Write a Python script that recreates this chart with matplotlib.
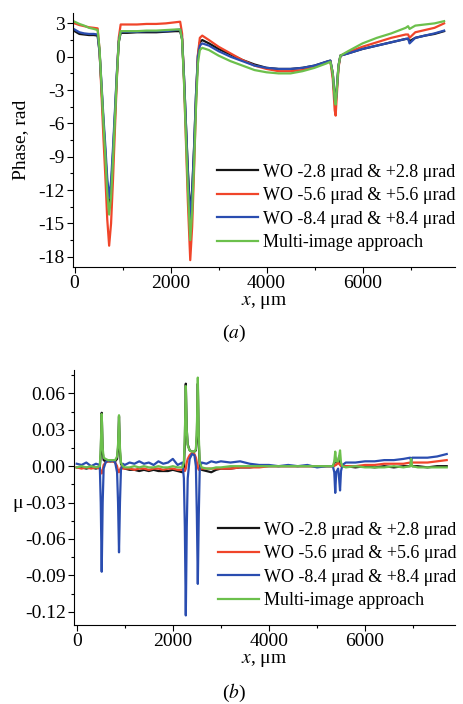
import matplotlib
matplotlib.use("Agg")
from matplotlib import pyplot as plt
from matplotlib.ticker import MultipleLocator, FormatStrFormatter

# ---- panel (a): phase ----
phase_x = [0, 100, 200, 300, 400, 480,
           520, 560, 600, 640, 680, 720, 760, 800, 840, 880, 920, 960,
           1100, 1300, 1500, 1700, 1900, 2100, 2200,
           2240, 2280, 2320, 2360, 2410, 2450, 2490, 2530, 2570, 2610, 2660,
           2800, 3000, 3250, 3500, 3750, 4000, 4250, 4500, 4750, 5000, 5250, 5330,
           5380, 5420, 5440, 5460, 5500, 5540,
           5700, 6000, 6300, 6600, 6900, 6950, 6980, 7100, 7300, 7500, 7700]

phase_wo28 = [2.3, 2.05, 2.0, 1.95, 1.95, 1.9,
              0.4, -2.7, -5.8, -8.6, -11.7, -13.5, -12.0, -8.8, -5.3, -1.7, 1.3, 2.15,
              2.15, 2.2, 2.2, 2.2, 2.25, 2.3, 2.3,
              1.6, -1.8, -6.0, -10.1, -14.3, -12.0, -8.1, -3.4, 0.1, 1.3, 1.5,
              1.2, 0.7, 0.2, -0.3, -0.7, -1.0, -1.1, -1.1, -1.0, -0.8, -0.45, -0.35,
              -1.5, -3.6, -4.0, -3.0, -0.8, 0.1,
              0.3, 0.7, 1.0, 1.3, 1.6, 1.6, 1.4, 1.7, 1.9, 2.05, 2.3]

phase_wo56 = [3.0, 2.85, 2.75, 2.65, 2.6, 2.55,
              0.6, -3.3, -7.2, -10.7, -14.6, -17.0, -15.0, -11.1, -6.6, -2.1, 1.7, 2.9,
              2.9, 2.9, 2.95, 2.95, 3.0, 3.1, 3.15,
              2.1, -2.2, -7.6, -13.0, -18.3, -15.3, -10.2, -4.3, 0.2, 1.7, 1.9,
              1.5, 0.9, 0.3, -0.3, -0.8, -1.1, -1.3, -1.3, -1.2, -0.9, -0.5, -0.4,
              -2.0, -4.8, -5.3, -3.8, -1.0, 0.1,
              0.4, 0.9, 1.3, 1.7, 2.0, 2.0, 1.7, 2.2, 2.4, 2.6, 3.0]

phase_wo84 = [2.45, 2.2, 2.1, 2.05, 2.05, 2.0,
              0.5, -2.4, -5.4, -8.0, -10.9, -12.7, -11.2, -8.2, -4.9, -1.5, 1.4, 2.25,
              2.25, 2.25, 2.3, 2.3, 2.3, 2.4, 2.45,
              1.6, -1.8, -6.1, -10.4, -14.7, -12.3, -8.3, -3.5, 0.0, 1.0, 1.2,
              1.0, 0.5, 0.0, -0.4, -0.8, -1.0, -1.1, -1.1, -1.0, -0.8, -0.45, -0.35,
              -1.5, -3.8, -4.2, -3.2, -0.8, 0.1,
              0.3, 0.7, 1.0, 1.3, 1.6, 1.65, 1.2, 1.7, 1.9, 2.1, 2.35]

phase_multi = [3.15, 2.95, 2.8, 2.6, 2.5, 2.4,
               0.7, -2.6, -5.9, -8.9, -12.2, -14.2, -12.6, -9.3, -5.7, -1.9, 1.3, 2.3,
               2.3, 2.3, 2.35, 2.35, 2.4, 2.45, 2.45,
               1.5, -2.3, -7.1, -11.8, -16.5, -13.9, -9.6, -4.5, -0.6, 0.6, 0.8,
               0.6, 0.1, -0.4, -0.8, -1.2, -1.4, -1.5, -1.5, -1.3, -1.0, -0.6, -0.45,
               -1.5, -3.8, -4.3, -3.2, -0.8, 0.1,
               0.5, 1.2, 1.7, 2.1, 2.6, 2.75, 2.5, 2.8, 2.9, 3.0, 3.2]

# ---- panel (b): mu ----
mu_x = [0, 100, 200, 300, 400, 480,
        500, 520, 540, 560, 600, 650, 700, 750, 800, 840, 860, 880, 900, 920, 960,
        1000, 1100, 1200, 1300, 1400, 1500, 1600, 1700, 1800, 1900, 2000, 2100, 2200,
        2230, 2250, 2270, 2290, 2310, 2350, 2400, 2450, 2480, 2500, 2520, 2540, 2560,
        2600, 2700, 2800, 2900, 3000, 3200, 3400, 3600, 3800, 4000, 4200, 4400, 4600, 4800, 5000, 5200, 5330,
        5360, 5380, 5400, 5440, 5460, 5480, 5500, 5530,
        5600, 5800, 6000, 6200, 6400, 6600, 6800, 6940, 6960, 6980, 7100, 7300, 7500, 7700]

mu_wo28 = [-0.001, -0.001, -0.002, -0.001, -0.002, -0.001,
           0.010, 0.044, 0.012, 0.005, 0.004, 0.004, 0.004, 0.004, 0.004, 0.006, 0.015, 0.041, 0.012, 0.002, -0.001,
           -0.002, -0.003, -0.003, -0.004, -0.003, -0.004, -0.003, -0.004, -0.004, -0.004, -0.003, -0.004, -0.005,
           -0.002, 0.020, 0.068, 0.030, 0.018, 0.013, 0.012, 0.012, 0.013, 0.025, 0.068, 0.020, 0.000,
           -0.003, -0.004, -0.005, -0.003, -0.002, -0.002, -0.001, -0.001, 0.000, 0.000, 0.000, 0.000, 0.000, 0.000, 0.000, 0.000, 0.000,
           0.002, 0.006, 0.004, 0.003, 0.008, 0.004, 0.001, 0.000,
           0.000, -0.001, 0.000, -0.001, 0.000, -0.001, 0.000, 0.000, 0.001, 0.000, 0.000, -0.001, 0.000, 0.000]

mu_wo56 = [-0.001, -0.002, -0.001, -0.002, -0.001, -0.002,
           -0.004, -0.006, -0.003, 0.001, 0.003, 0.004, 0.004, 0.004, 0.003, 0.000, -0.004, -0.005, -0.003, -0.001, -0.002,
           -0.002, -0.002, -0.003, -0.002, -0.002, -0.003, -0.002, -0.002, -0.003, -0.002, -0.002, -0.003, -0.003,
           -0.002, -0.004, -0.002, 0.003, 0.006, 0.009, 0.011, 0.010, 0.007, 0.003, -0.001, -0.003, -0.002,
           -0.002, -0.002, -0.002, -0.002, -0.002, -0.002, -0.001, -0.001, -0.001, 0.000, 0.000, 0.000, 0.000, 0.000, 0.000, 0.000, 0.000,
           0.000, 0.001, 0.001, 0.003, 0.002, 0.001, 0.000, 0.000,
           0.000, 0.000, 0.001, 0.001, 0.002, 0.002, 0.002, 0.003, 0.001, 0.003, 0.003, 0.003, 0.004, 0.005]

mu_wo84 = [0.002, 0.001, 0.003, 0.000, 0.002, 0.001,
           -0.030, -0.087, -0.030, -0.002, 0.003, 0.005, 0.004, 0.005, 0.003, -0.005, -0.030, -0.071, -0.030, -0.003, 0.002,
           0.001, 0.003, 0.002, 0.004, 0.002, 0.003, 0.001, 0.004, 0.002, 0.003, 0.006, 0.001, 0.003,
           -0.010, -0.050, -0.123, -0.050, -0.010, 0.006, 0.010, 0.009, 0.000, -0.040, -0.097, -0.040, -0.002,
           0.003, 0.002, 0.004, 0.003, 0.004, 0.003, 0.004, 0.002, 0.001, 0.001, 0.000, 0.001, 0.000, 0.001, -0.001, 0.000, 0.000,
           -0.005, -0.022, -0.005, -0.002, -0.010, -0.020, -0.004, 0.001,
           0.003, 0.003, 0.004, 0.004, 0.005, 0.005, 0.006, 0.007, 0.004, 0.007, 0.007, 0.007, 0.008, 0.010]

mu_multi = [-0.001, 0.000, -0.001, 0.000, -0.001, 0.000,
            0.015, 0.043, 0.015, 0.007, 0.006, 0.005, 0.005, 0.005, 0.005, 0.008, 0.018, 0.042, 0.015, 0.003, 0.000,
            -0.001, -0.001, 0.000, -0.001, 0.000, -0.001, -0.001, 0.000, -0.001, -0.001, 0.000, -0.001, -0.001,
            0.003, 0.025, 0.066, 0.030, 0.017, 0.013, 0.012, 0.012, 0.014, 0.030, 0.073, 0.025, 0.003,
            -0.001, -0.002, -0.002, -0.001, -0.001, 0.000, 0.000, 0.000, 0.000, 0.000, 0.000, 0.000, 0.000, 0.000, 0.000, 0.000, 0.000,
            0.004, 0.012, 0.004, 0.004, 0.008, 0.013, 0.003, 0.000,
            -0.001, 0.000, -0.001, -0.001, -0.001, 0.000, -0.001, 0.000, 0.006, 0.000, -0.001, -0.001, -0.001, -0.001]

labels = ["WO -2.8 μrad & +2.8 μrad",
          "WO -5.6 μrad & +5.6 μrad",
          "WO -8.4 μrad & +8.4 μrad",
          "Multi-image approach"]
colors = ["#151515", "#f0452a", "#2a4db0", "#6cc04c"]

plt.rcParams["font.family"] = ["Liberation Serif", "DejaVu Serif"]
plt.rcParams["mathtext.fontset"] = "stix"
plt.rcParams["axes.unicode_minus"] = False
plt.rcParams["font.size"] = 14

legend_kw = dict(loc="upper left", frameon=False, handlelength=2.3,
                 handletextpad=0.27, labelspacing=0.36, borderaxespad=0,
                 fontsize=13)


def style_axes(ax):
    ax.spines["top"].set_visible(False)
    ax.spines["right"].set_visible(False)
    ax.tick_params(direction="out", length=4, width=0.8, labelsize=14, pad=2)
    ax.tick_params(which="minor", direction="out", length=2.5, width=0.8)
    ax.xaxis.set_major_locator(MultipleLocator(2000))
    ax.xaxis.set_minor_locator(MultipleLocator(1000))


fig = plt.figure(figsize=(4.63, 7.04), dpi=100)

ax1 = fig.add_axes([0.158, 0.621, 0.825, 0.360])
for ys, c, lab in zip([phase_wo28, phase_wo56, phase_wo84, phase_multi], colors, labels):
    ax1.plot(phase_x, ys, color=c, lw=1.6, label=lab)
ax1.set_xlim(-30, 7930)
ax1.set_ylim(-18.9, 3.9)
ax1.yaxis.set_major_locator(MultipleLocator(3))
ax1.yaxis.set_minor_locator(MultipleLocator(1.5))
style_axes(ax1)
ax1.set_ylabel("Phase, rad", fontsize=14)
ax1.yaxis.set_label_coords(-0.115, 0.5)
ax1.set_xlabel("$x$, μm", labelpad=1, fontsize=14)
ax1.legend(bbox_to_anchor=(0.357, 0.435), **legend_kw)
fig.text(0.505, 0.527, "($a$)", ha="center", va="center", fontsize=14)

ax2 = fig.add_axes([0.160, 0.112, 0.823, 0.362])
for ys, c, lab in zip([mu_wo28, mu_wo56, mu_wo84, mu_multi], colors, labels):
    ax2.plot(mu_x, ys, color=c, lw=1.6, label=lab)
ax2.set_xlim(-55, 7875)
ax2.set_ylim(-0.131, 0.079)
ax2.yaxis.set_major_locator(MultipleLocator(0.03))
ax2.yaxis.set_minor_locator(MultipleLocator(0.015))
ax2.yaxis.set_major_formatter(FormatStrFormatter("%.2f"))
style_axes(ax2)
ax2.set_xlabel("$x$, μm", labelpad=1, fontsize=14)
fig.text(0.037, 0.285, "μ", ha="center", va="center", fontsize=14)
ax2.legend(bbox_to_anchor=(0.358, 0.434), **legend_kw)
fig.text(0.505, 0.016, "($b$)", ha="center", va="center", fontsize=14)

fig.savefig("out.png", dpi=100)
